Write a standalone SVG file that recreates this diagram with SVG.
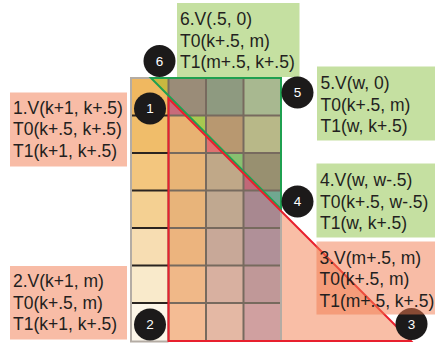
<svg xmlns="http://www.w3.org/2000/svg" width="435" height="344" viewBox="0 0 435 344">
<defs>
<style>
.lbl{font-family:"Liberation Sans",Arial,sans-serif;font-size:17.5px;fill:#231f20}
.num{font-family:"Liberation Sans",Arial,sans-serif;font-size:13.5px;fill:#ffffff;text-anchor:middle}
.sal{fill:#f1794d;fill-opacity:0.5}
.grn{fill:#c5e0a1}
.dot{fill:#1c1a1a}
.gl{stroke:#776a5e;stroke-width:2;fill:none}
.gd{stroke:#2a2420;stroke-width:2;fill:none}
.red{stroke:#e8202e;stroke-width:2;fill:none}
.green{stroke:#1fa050;stroke-width:2;fill:none}
</style>
<clipPath id="gclip"><polygon points="151,78 281,78 281,209"/></clipPath>
</defs>
<rect width="435" height="344" fill="#ffffff"/>

<g id="texture">
<polygon points="168.5,98.5 168.5,341 411,341" fill="#f9bea6"/>
<rect x="131" y="78" width="37.5" height="37.5" fill="#f0b860"/>
<rect x="131" y="115.5" width="37.5" height="37.5" fill="#f0bd6a"/>
<rect x="131" y="153" width="37.5" height="37.5" fill="#f3c67e"/>
<rect x="131" y="190.5" width="37.5" height="37.5" fill="#f4d092"/>
<rect x="131" y="228" width="37.5" height="37.5" fill="#f7ddb2"/>
<rect x="131" y="265.5" width="37.5" height="37.5" fill="#f9eacb"/>
<rect x="131" y="303" width="37.5" height="37.5" fill="#fdf6e8"/>
<rect x="168.5" y="78" width="37.5" height="37.5" fill="#c86a7a"/>
<rect x="168.5" y="115.5" width="37.5" height="37.5" fill="#e8b272"/>
<rect x="168.5" y="153" width="37.5" height="37.5" fill="#e8b476"/>
<rect x="168.5" y="190.5" width="37.5" height="37.5" fill="#e8b47a"/>
<rect x="168.5" y="228" width="37.5" height="37.5" fill="#ecb47e"/>
<rect x="168.5" y="265.5" width="37.5" height="37.5" fill="#f0b888"/>
<rect x="168.5" y="303" width="37.5" height="37.5" fill="#f4bc94"/>
<rect x="206" y="78" width="37.5" height="37.5" fill="#8e9a80"/>
<rect x="206" y="115.5" width="37.5" height="37.5" fill="#e07070"/>
<rect x="206" y="153" width="37.5" height="37.5" fill="#c0a888"/>
<rect x="206" y="190.5" width="37.5" height="37.5" fill="#c0a890"/>
<rect x="206" y="228" width="37.5" height="37.5" fill="#c8a898"/>
<rect x="206" y="265.5" width="37.5" height="37.5" fill="#d8b0a0"/>
<rect x="206" y="303" width="37.5" height="37.5" fill="#e4b8a4"/>
<rect x="243.5" y="78" width="37.5" height="37.5" fill="#a8b890"/>
<rect x="243.5" y="115.5" width="37.5" height="37.5" fill="#b8b888"/>
<rect x="243.5" y="153" width="37.5" height="37.5" fill="#c06878"/>
<rect x="243.5" y="190.5" width="37.5" height="37.5" fill="#a88890"/>
<rect x="243.5" y="228" width="37.5" height="37.5" fill="#b09098"/>
<rect x="243.5" y="265.5" width="37.5" height="37.5" fill="#c09898"/>
<rect x="243.5" y="303" width="37.5" height="37.5" fill="#d0a0a0"/>
<g clip-path="url(#gclip)">
<rect x="131" y="78" width="37.5" height="37.5" fill="#c8b840"/>
<rect x="168.5" y="78" width="37.5" height="37.5" fill="#9a8c78"/>
<rect x="168.5" y="115.5" width="37.5" height="37.5" fill="#a8c850"/>
<rect x="206" y="115.5" width="37.5" height="37.5" fill="#b89870"/>
<rect x="206" y="153" width="37.5" height="37.5" fill="#88c070"/>
<rect x="243.5" y="153" width="37.5" height="37.5" fill="#989070"/>
<rect x="243.5" y="190.5" width="37.5" height="37.5" fill="#70a890"/>
</g>
<path class="gl" d="M206,78V341M243.5,78V341M168.5,78V341M168.5,115.5H281M168.5,153H281M168.5,190.5H281M168.5,228H281M168.5,265.5H281M168.5,303H281"/>
<path class="gd" d="M131,115.5H168.5M131,153H168.5M131,190.5H168.5M131,228H168.5M131,265.5H168.5M131,303H168.5"/>
<path d="M131,77V341.5H168.5M131,78H151M281,209V341" stroke="#b4aca4" stroke-width="2" fill="none"/>
</g>

<g id="connectors">
<path class="green" d="M151,78H281V209Z"/>
<path class="red" d="M168.5,98.5V341H411Z"/>
</g>

<g id="node6">
<rect class="grn" x="177" y="3" width="122.5" height="74"/>
<text class="lbl" x="180" y="25">6.V(.5, 0)</text>
<text class="lbl" x="180" y="46.5">T0(k+.5, m)</text>
<text class="lbl" x="180" y="68">T1(m+.5, k+.5)</text>
<circle class="dot" cx="159.5" cy="61" r="16"/>
<text class="num" x="159.5" y="65.5">6</text>
</g>

<g id="node1">
<rect class="sal" x="10" y="92.5" width="117" height="74"/>
<text class="lbl" x="13" y="113.5">1.V(k+1, k+.5)</text>
<text class="lbl" x="13" y="135">T0(k+.5, k+.5)</text>
<text class="lbl" x="13" y="156.5">T1(k+1, k+.5)</text>
<circle class="dot" cx="150" cy="108.5" r="16"/>
<text class="num" x="150" y="113">1</text>
</g>

<g id="node2">
<rect class="sal" x="10" y="266" width="117" height="73.5"/>
<text class="lbl" x="13" y="287">2.V(k+1, m)</text>
<text class="lbl" x="13" y="308.5">T0(k+.5, m)</text>
<text class="lbl" x="13" y="330">T1(k+1, k+.5)</text>
<circle class="dot" cx="150" cy="324.5" r="16"/>
<text class="num" x="150" y="329">2</text>
</g>

<g id="node5">
<rect class="grn" x="317" y="66.5" width="118" height="74"/>
<text class="lbl" x="320.5" y="89">5.V(w, 0)</text>
<text class="lbl" x="320.5" y="110.5">T0(k+.5, m)</text>
<text class="lbl" x="320.5" y="132">T1(w, k+.5)</text>
<circle class="dot" cx="297.5" cy="92.5" r="16"/>
<text class="num" x="297.5" y="97">5</text>
</g>

<g id="node4">
<rect class="grn" x="316.5" y="163.5" width="118.5" height="74"/>
<text class="lbl" x="320" y="186">4.V(w, w-.5)</text>
<text class="lbl" x="320" y="207.5">T0(k+.5, w-.5)</text>
<text class="lbl" x="320" y="229">T1(w, k+.5)</text>
<circle class="dot" cx="297.5" cy="201.5" r="16"/>
<text class="num" x="297.5" y="206">4</text>
</g>

<g id="node3">
<circle class="dot" cx="411.5" cy="324" r="16"/>
<text class="num" x="411.5" y="328.5">3</text>
<rect class="sal" x="316.5" y="241.5" width="118.5" height="73"/>
<text class="lbl" x="319.5" y="263.5">3.V(m+.5, m)</text>
<text class="lbl" x="319.5" y="285">T0(k+.5, m)</text>
<text class="lbl" x="319.5" y="306.5">T1(m+.5, k+.5)</text>
</g>
</svg>
